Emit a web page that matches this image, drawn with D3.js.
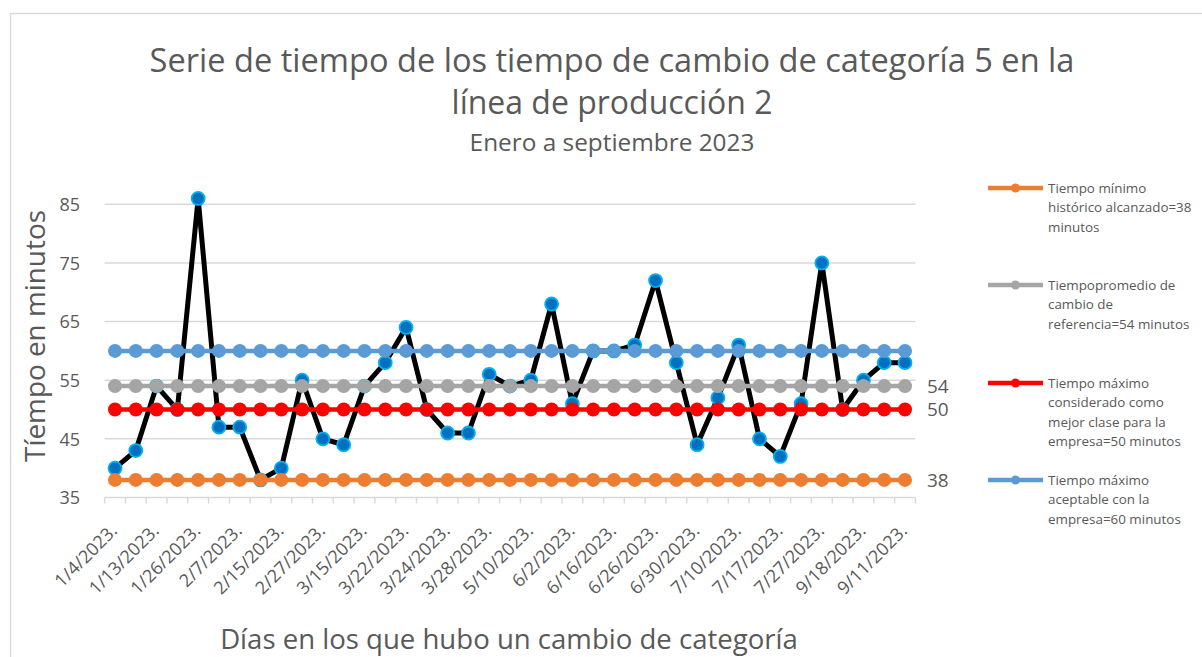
<!DOCTYPE html>
<html><head><meta charset="utf-8">
<script src="https://cdn.jsdelivr.net/npm/d3@7/dist/d3.min.js"></script>
<style>body{margin:0;background:#fff}svg{display:block}text{font-family:"Open Sans",sans-serif;fill:#595959}</style>
</head><body><svg id="c" width="1202" height="657"></svg>
<script>
// ---- data ----
const tickLabels = ["1/4/2023.","1/13/2023.","1/26/2023.","2/7/2023.","2/15/2023.","2/27/2023.","3/15/2023.","3/22/2023.","3/24/2023.","3/28/2023.","5/10/2023.","6/2/2023.","6/16/2023.","6/26/2023.","6/30/2023.","7/10/2023.","7/17/2023.","7/27/2023.","9/18/2023.","9/11/2023."];
const tiempos = [40,43,54,50,86,47,47,38,40,55,45,44,54,58,64,50,46,46,56,54,55,68,51,60,60,61,72,58,44,52,61,45,42,51,75,50,55,58,58];
const minimo = 38, promedio = 54, maximoClase = 50, maximoAceptable = 60;
const yTicks = [35,45,55,65,75,85];
const seriesNames = ["Tiempo mínimo histórico alcanzado=38 minutos","Tiempopromedio de cambio de referencia=54 minutos","Tiempo máximo considerado como mejor clase para la empresa=50 minutos","Tiempo máximo aceptable con la empresa=60 minutos"];
const legendLines = [["Tiempo mínimo","histórico alcanzado=38","minutos"],["Tiempopromedio de","cambio de","referencia=54 minutos"],["Tiempo máximo","considerado como","mejor clase para la","empresa=50 minutos"],["Tiempo máximo","aceptable con la","empresa=60 minutos"]];

const svg = d3.select("#c");
const cats = d3.range(tiempos.length);
// label for each even category
const catLabel = i => (i % 2 === 0 ? tickLabels[i/2] : "");

const x = d3.scalePoint().domain(cats).range([104.6, 915.4]).padding(0.5);
const y = d3.scaleLinear().domain([35, 85]).range([497.5, 204.3]);

// border
svg.append("rect").attr("x",10.5).attr("y",13.5).attr("width",1200).attr("height",700)
  .attr("fill","none").attr("stroke","#d9d9d9").attr("stroke-width",1.5);

function fitText(sel, target){
  const w = sel.node().getComputedTextLength();
  const fs = parseFloat(sel.attr("font-size"));
  sel.attr("font-size", fs*target/w);
}

// titles
fitText(svg.append("text").attr("x",612).attr("y",72).attr("text-anchor","middle").attr("font-size",30)
  .text("Serie de tiempo de los tiempo de cambio de categoría 5 en la"), 925);
fitText(svg.append("text").attr("x",612).attr("y",114).attr("text-anchor","middle").attr("font-size",30)
  .text("línea de producción 2"), 321);
fitText(svg.append("text").attr("x",612).attr("y",151).attr("text-anchor","middle").attr("font-size",20)
  .text("Enero a septiembre 2023"), 285);

// gridlines
const gy = svg.append("g");
gy.selectAll("line").data(yTicks.filter(d=>d>35)).join("line")
  .attr("x1",104.6).attr("x2",915.4).attr("y1",d=>y(d)).attr("y2",d=>y(d))
  .attr("stroke","#d9d9d9").attr("stroke-width",1.5);

// y axis labels
svg.append("g").attr("transform","translate(104,0)")
  .call(d3.axisLeft(y).tickValues(yTicks).tickSize(0).tickPadding(24))
  .call(g=>g.select(".domain").remove())
  .call(g=>g.selectAll("text").attr("font-size",18).attr("font-family","Open Sans").attr("fill","#595959").attr("dy","0.35em"));

// x axis line & ticks (between categories)
const step = x.step();
const xa = svg.append("g");
xa.append("line").attr("x1",104.6).attr("x2",915.4).attr("y1",y(35)).attr("y2",y(35)).attr("stroke","#d9d9d9").attr("stroke-width",1.5);
xa.selectAll("line.t").data(d3.range(cats.length+1)).join("line").attr("class","t")
  .attr("x1",i=>x(0)-step/2+i*step).attr("x2",i=>x(0)-step/2+i*step)
  .attr("y1",y(35)).attr("y2",y(35)+6).attr("stroke","#d9d9d9").attr("stroke-width",1.5);
xa.selectAll("text").data(cats.filter(i=>i%2===0)).join("text")
  .attr("transform",i=>`translate(${x(i)-1},${y(35)+30}) rotate(-45)`)
  .attr("text-anchor","end").attr("font-size",18).attr("dy","0.35em")
  .text(i=>catLabel(i));

// axis titles
fitText(svg.append("text").attr("transform","translate(45,336) rotate(-90)").attr("text-anchor","middle").attr("font-size",24)
  .text("Tíempo en minutos"), 252);
fitText(svg.append("text").attr("x",509).attr("y",649).attr("text-anchor","middle").attr("font-size",24)
  .text("Días en los que hubo un cambio de categoría"), 578);

// main series
const line = d3.line().x((d,i)=>x(i)).y(d=>y(d));
svg.append("path").datum(tiempos).attr("d",line).attr("fill","none").attr("stroke","#000").attr("stroke-width",5).attr("stroke-linejoin","round");
svg.append("g").selectAll("circle").data(tiempos).join("circle")
  .attr("cx",(d,i)=>x(i)).attr("cy",d=>y(d)).attr("r",6.5)
  .attr("fill","#0070C0").attr("stroke","#00B0F0").attr("stroke-width",1.8);

// constant series
const consts = [
  {v:minimo,color:"#ED7D31",label:true},
  {v:promedio,color:"#A5A5A5",label:true},
  {v:maximoClase,color:"#FF0000",label:true},
  {v:maximoAceptable,color:"#5B9BD5",label:false}
];
consts.forEach(c=>{
  const vals = cats.map(()=>c.v);
  svg.append("path").datum(vals).attr("d",line).attr("fill","none").attr("stroke",c.color).attr("stroke-width",4.5);
  svg.append("g").selectAll("circle").data(vals).join("circle")
    .attr("cx",(d,i)=>x(i)).attr("cy",d=>y(d)).attr("r",7).attr("fill",c.color);
  if(c.label){
    svg.append("text").attr("x",x(cats.length-1)+22).attr("y",y(c.v)).attr("dy","0.35em")
      .attr("font-size",19).attr("fill","#404040").text(c.v);
  }
});

// legend
const legendY = [188, 285, 383, 480];
consts.forEach((c,k)=>{
  const g = svg.append("g").attr("transform",`translate(0,${legendY[k]})`);
  g.append("line").attr("x1",988).attr("x2",1043).attr("y1",0).attr("y2",0).attr("stroke",c.color).attr("stroke-width",4.5);
  g.append("circle").attr("cx",1015.5).attr("cy",0).attr("r",4.5).attr("fill",c.color);
  g.append("title").text(seriesNames[k]);
  legendLines[k].forEach((t,j)=>{
    g.append("text").attr("x",1048).attr("y",j*19.5).attr("dy","0.35em").attr("font-size",13.4).text(t);
  });
});
</script></body></html>
